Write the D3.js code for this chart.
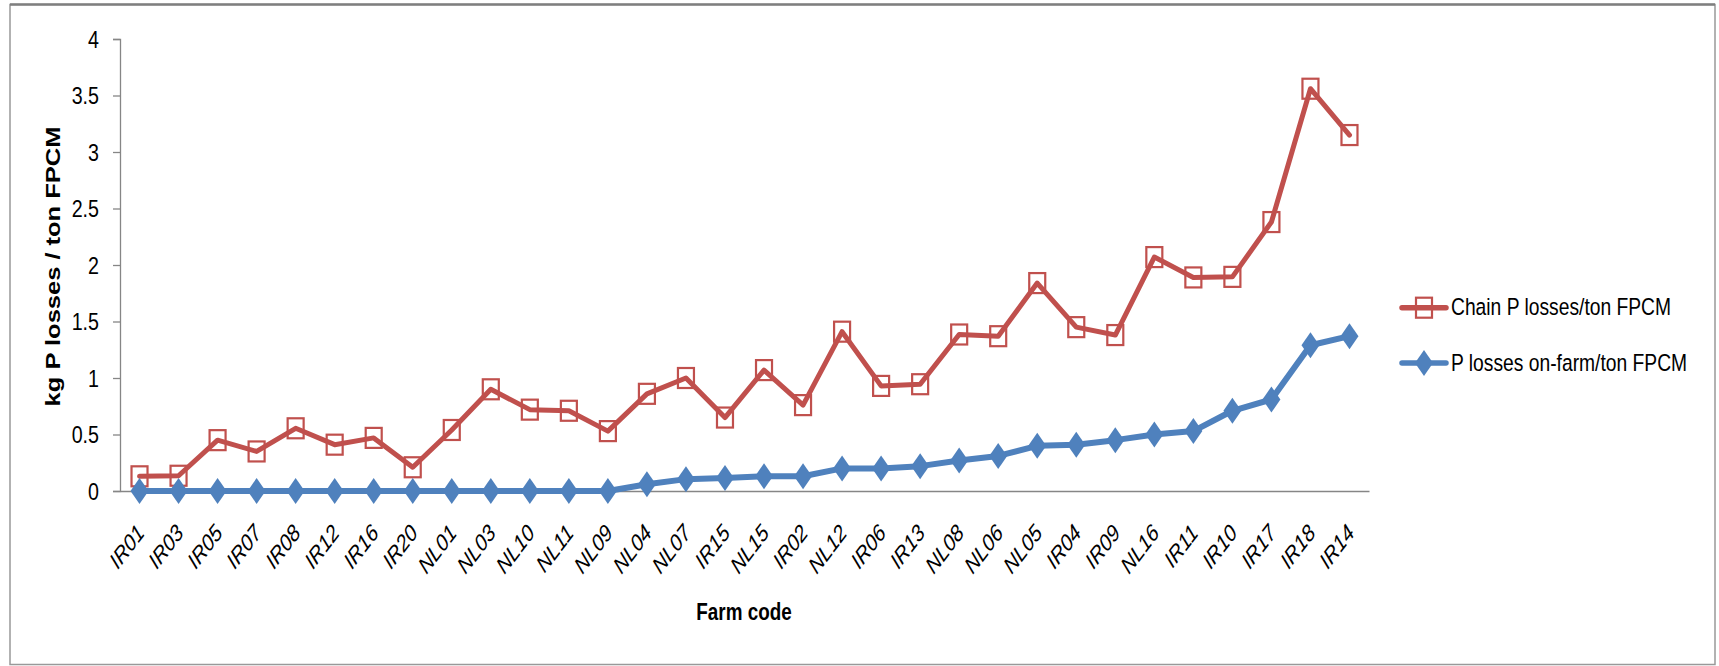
<!DOCTYPE html>
<html>
<head>
<meta charset="utf-8">
<script src="https://cdn.jsdelivr.net/npm/d3@7"></script>
<style>
  html, body { margin: 0; padding: 0; background: #fff; }
  svg { display: block; }
  text { font-family: "Liberation Sans", Arial, sans-serif; fill: #000; }
</style>
</head>
<body>
<svg id="chart" width="1719" height="666"></svg>
<script>
// Farms, ordered by on-farm P losses
const farms = ["IR01","IR03","IR05","IR07","IR08","IR12","IR16","IR20","NL01","NL03",
  "NL10","NL11","NL09","NL04","NL07","IR15","NL15","IR02","NL12","IR06",
  "IR13","NL08","NL06","NL05","IR04","IR09","NL16","IR11","IR10","IR17","IR18","IR14"];

// kg P losses per ton FPCM, whole chain
const chainLoss = [0.13,0.135,0.45,0.35,0.555,0.41,0.47,0.21,0.54,0.90,
  0.72,0.71,0.53,0.86,1.00,0.65,1.07,0.76,1.41,0.93,
  0.945,1.385,1.37,1.84,1.45,1.38,2.07,1.89,1.895,2.38,3.56,3.15];

// kg P losses per ton FPCM, on-farm only
const onFarmLoss = [0,0,0,0,0,0,0,0,0,0,
  0,0,0,0.06,0.105,0.115,0.13,0.13,0.20,0.20,
  0.22,0.27,0.31,0.40,0.41,0.45,0.50,0.53,0.71,0.81,1.29,1.37];

const yTicks = [0, 0.5, 1, 1.5, 2, 2.5, 3, 3.5, 4];

const seriesNames = ["Chain P losses/ton FPCM", "P losses on-farm/ton FPCM"];
const yTitle = "kg P losses / ton FPCM";
const xTitle = "Farm code";

const red = "#C0504D", blue = "#4F81BD", axisGrey = "#868686";
const SX = 0.82; // horizontal condensing of all text

const svg = d3.select("#chart");

// outer chart frame
svg.append("rect")
  .attr("x", 10).attr("y", 4.5).attr("width", 1705).attr("height", 660)
  .attr("fill", "none").attr("stroke", "#999").attr("stroke-width", 1.5);
svg.append("line")
  .attr("x1", 10).attr("x2", 1715).attr("y1", 4.5).attr("y2", 4.5)
  .attr("stroke", "#7f7f7f").attr("stroke-width", 2.5);

const plot = { left: 120, right: 1369, top: 39, bottom: 491 };

const x = d3.scaleBand().domain(farms).range([plot.left, plot.right]);
const y = d3.scaleLinear().domain([0, 4]).range([plot.bottom, plot.top]);
const cx = d => x(d) + x.bandwidth() / 2;

// y axis
const yAxis = svg.append("g")
  .attr("transform", `translate(${plot.left},0)`)
  .call(d3.axisLeft(y).tickValues(yTicks).tickSize(7).tickPadding(0)
    .tickFormat(d => String(d)));
yAxis.select(".domain").attr("stroke", axisGrey).attr("stroke-width", 1.3);
yAxis.selectAll(".tick line").attr("stroke", axisGrey).attr("stroke-width", 1.3);
yAxis.selectAll(".tick text")
  .attr("x", null).attr("dy", null)
  .attr("text-anchor", "end")
  .attr("dominant-baseline", "central")
  .attr("transform", `translate(-21,0) scale(${SX},1)`)
  .style("font-size", "24px")
  .style("font-family", "'Liberation Sans', Arial, sans-serif")
  .attr("fill", "#111");

// x axis (line only, rotated labels)
const xAxis = svg.append("g")
  .attr("transform", `translate(0,${plot.bottom})`)
  .call(d3.axisBottom(x).tickSize(0).tickSizeOuter(0).tickPadding(0));
xAxis.select(".domain").attr("stroke", axisGrey).attr("stroke-width", 1.3);
xAxis.selectAll(".tick text")
  .attr("y", null).attr("dy", null)
  .attr("text-anchor", "end")
  .attr("transform", `translate(6,43) scale(${SX},1) rotate(-47)`)
  .style("font-size", "23.5px")
  .style("font-style", "italic")
  .style("font-family", "'Liberation Sans', Arial, sans-serif")
  .attr("fill", "#111");

// axis titles
svg.append("text")
  .attr("transform", `translate(60,266.5) scale(${SX},1) rotate(-90)`)
  .attr("text-anchor", "middle")
  .style("font-size", "25.5px").style("font-weight", "bold")
  .text(yTitle);

svg.append("text")
  .attr("transform", `translate(744,620) scale(${SX},1)`)
  .attr("text-anchor", "middle")
  .style("font-size", "23px").style("font-weight", "bold")
  .text(xTitle);

// series
const line = d3.line().x(d => cx(d.farm)).y(d => y(d.v));
const chainData = farms.map((f, i) => ({ farm: f, v: chainLoss[i] }));
const onFarmData = farms.map((f, i) => ({ farm: f, v: onFarmLoss[i] }));

const sqW = 16, sqH = 20;   // square marker
const dmW = 18, dmH = 26;   // diamond marker
const diamond = (px, py) =>
  `M${px},${py - dmH / 2}L${px + dmW / 2},${py}L${px},${py + dmH / 2}L${px - dmW / 2},${py}Z`;

// chain losses: red line with hollow squares
svg.append("path").datum(chainData)
  .attr("d", line).attr("fill", "none")
  .attr("stroke", red).attr("stroke-width", 5)
  .attr("stroke-linejoin", "round").attr("stroke-linecap", "round");
svg.append("g").selectAll("rect").data(chainData).join("rect")
  .attr("x", d => cx(d.farm) - sqW / 2)
  .attr("y", d => y(d.v) - sqH / 2)
  .attr("width", sqW).attr("height", sqH)
  .attr("fill", "none").attr("stroke", red).attr("stroke-width", 2.2);

// on-farm losses: blue line with filled diamonds
svg.append("path").datum(onFarmData)
  .attr("d", line).attr("fill", "none")
  .attr("stroke", blue).attr("stroke-width", 6)
  .attr("stroke-linejoin", "round").attr("stroke-linecap", "round");
svg.append("g").selectAll("path").data(onFarmData).join("path")
  .attr("d", d => diamond(cx(d.farm), y(d.v)))
  .attr("fill", blue);

// legend
const legend = svg.append("g");
const legendRows = [
  { name: seriesNames[0], color: red, y: 307.7, marker: "square" },
  { name: seriesNames[1], color: blue, y: 363, marker: "diamond" }
];
legendRows.forEach(r => {
  legend.append("line")
    .attr("x1", 1402).attr("x2", 1446).attr("y1", r.y).attr("y2", r.y)
    .attr("stroke", r.color).attr("stroke-width", 5.5).attr("stroke-linecap", "round");
  if (r.marker === "square") {
    legend.append("rect")
      .attr("x", 1424 - sqW / 2).attr("y", r.y - sqH / 2)
      .attr("width", sqW).attr("height", sqH)
      .attr("fill", "none").attr("stroke", r.color).attr("stroke-width", 2.2);
  } else {
    legend.append("path").attr("d", diamond(1424, r.y)).attr("fill", r.color);
  }
  legend.append("text")
    .attr("transform", `translate(1451,${r.y}) scale(${SX},1)`)
    .attr("dominant-baseline", "central")
    .style("font-size", "23.5px")
    .text(r.name);
});
</script>
</body>
</html>
